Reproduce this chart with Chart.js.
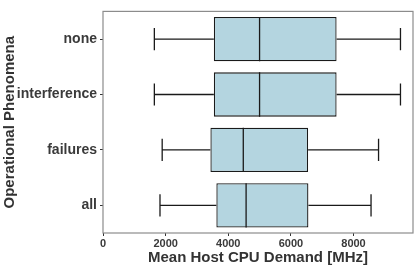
<!DOCTYPE html>
<html>
<head>
<meta charset="utf-8">
<script src="https://cdn.jsdelivr.net/npm/chart.js@4.4.0/dist/chart.umd.min.js"></script>
<style>
  html, body { margin: 0; padding: 0; background: #fff; }
  #wrap { width: 415px; height: 269px; position: relative; }
</style>
</head>
<body>
<div id="wrap"><canvas id="boxChart"></canvas></div>
<script>
// Box plot data (MHz)
const categories = ['none', 'interference', 'failures', 'all'];
const whiskerLow = [1640, 1640, 1890, 1820];
const q1 = [3540, 3540, 3430, 3620];
const median = [5000, 5000, 4480, 4570];
const q3 = [7460, 7460, 6550, 6560];
const whiskerHigh = [9500, 9500, 8800, 8560];
const xTicks = [0, 2000, 4000, 6000, 8000];

const FONT = '"Liberation Sans", Arial, sans-serif';

// Draw whiskers, medians and the panel border through the chart scales
const boxExtras = {
  id: 'boxExtras',
  afterDatasetsDraw(chart) {
    const ctx = chart.ctx;
    const xs = chart.scales.x;
    const meta = chart.getDatasetMeta(0);
    ctx.save();
    ctx.strokeStyle = '#1a1a1a';
    ctx.lineWidth = 1.3;
    meta.data.forEach((bar, i) => {
      const { y, height } = bar.getProps(['y', 'height'], true);
      const cap = height / 4;
      const xl = xs.getPixelForValue(whiskerLow[i]);
      const x1 = xs.getPixelForValue(q1[i]);
      const xm = xs.getPixelForValue(median[i]);
      const x3 = xs.getPixelForValue(q3[i]);
      const xh = xs.getPixelForValue(whiskerHigh[i]);
      ctx.beginPath();
      ctx.moveTo(xl, y); ctx.lineTo(x1, y);
      ctx.moveTo(x3, y); ctx.lineTo(xh, y);
      ctx.moveTo(xl, y - cap); ctx.lineTo(xl, y + cap);
      ctx.moveTo(xh, y - cap); ctx.lineTo(xh, y + cap);
      ctx.moveTo(xm, y - height / 2); ctx.lineTo(xm, y + height / 2);
      ctx.stroke();
    });
    const a = chart.chartArea;
    ctx.strokeStyle = '#8c8c8c';
    ctx.lineWidth = 1.2;
    ctx.strokeRect(a.left, a.top, a.right - a.left, a.bottom - a.top);
    ctx.restore();
  }
};

const chart = new Chart(document.getElementById('boxChart').getContext('2d'), {
  type: 'bar',
  data: {
    labels: categories,
    datasets: [{
      data: categories.map((c, i) => [q1[i], q3[i]]),
      backgroundColor: '#b4d5e0',
      borderColor: '#1a1a1a',
      borderWidth: 1.3,
      borderSkipped: false,
      barPercentage: 0.8,
      categoryPercentage: 1.0
    }]
  },
  options: {
    indexAxis: 'y',
    responsive: true,
    maintainAspectRatio: false,
    animation: false,
    layout: { padding: { top: 3, right: 2, left: 0, bottom: 0 } },
    plugins: {
      legend: { display: false },
      tooltip: { enabled: false }
    },
    scales: {
      x: {
        type: 'linear',
        min: 0,
        max: 9900,
        afterBuildTicks: (axis) => { axis.ticks = xTicks.map(v => ({ value: v })); },
        afterFit: (scale) => { scale.height = 36; },
        grid: { display: true, drawOnChartArea: false, drawTicks: true, tickLength: 3, color: '#333' },
        border: { display: false },
        ticks: {
          padding: 1,
          color: '#3a3a3a',
          font: { family: FONT, size: 11, weight: 'bold' },
          callback: (v) => String(v)
        },
        title: {
          display: true,
          text: 'Mean Host CPU Demand [MHz]',
          color: '#333',
          padding: { top: 0, bottom: 2 },
          font: { family: FONT, size: 15, weight: 'bold' }
        }
      },
      y: {
        afterFit: (scale) => { scale.width = 103; },
        grid: { display: true, offset: false, drawOnChartArea: false, drawTicks: true, tickLength: 3, color: '#333' },
        border: { display: false },
        ticks: {
          padding: 3,
          color: '#3a3a3a',
          font: { family: FONT, size: 14, weight: 'bold' }
        },
        title: {
          display: true,
          text: 'Operational Phenomena',
          color: '#333',
          padding: { top: 1, bottom: 0 },
          font: { family: FONT, size: 15, weight: 'bold' }
        }
      }
    }
  },
  plugins: [boxExtras]
});
</script>
</body>
</html>
